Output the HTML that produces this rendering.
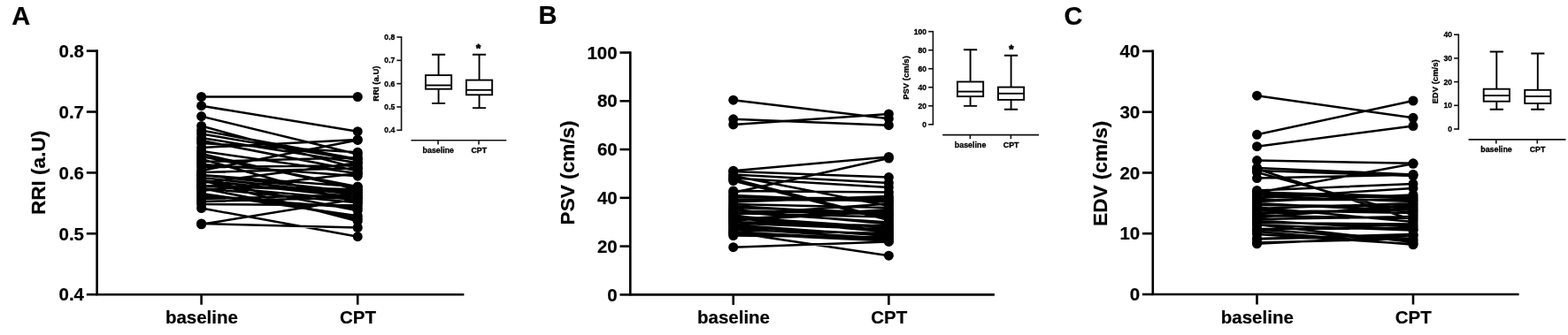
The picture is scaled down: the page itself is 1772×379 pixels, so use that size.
<!DOCTYPE html>
<html lang="en">
<head>
<meta charset="utf-8">
<title>Figure</title>
<style>
html,body{margin:0;padding:0;background:#fff;}
body{width:1772px;height:379px;overflow:hidden;}
svg{display:block;}
svg text{font-family:"Liberation Sans", Arial, Helvetica, sans-serif;font-weight:bold;fill:#000;}
svg text.m{stroke:#000;stroke-width:0.2px;}
svg text.s{stroke:#000;stroke-width:0.3px;}
svg text.st{stroke:#000;stroke-width:0.8px;stroke-linejoin:round;}
</style>
</head>
<body>
<svg width="1772" height="379" viewBox="0 0 1772 379">
<rect width="1772" height="379" fill="#fff"/>
<path d="M109.6 56.3V333.2H524.4" fill="none" stroke="#000" stroke-width="2.6" stroke-linejoin="miter"/>
<line x1="97.8" y1="57.6" x2="109.6" y2="57.6" stroke="#000" stroke-width="2.6" stroke-linecap="butt"/>
<text x="95" y="64.8" text-anchor="end" font-size="20.5" class="m">0.8</text>
<line x1="97.8" y1="126.5" x2="109.6" y2="126.5" stroke="#000" stroke-width="2.6" stroke-linecap="butt"/>
<text x="95" y="133.7" text-anchor="end" font-size="20.5" class="m">0.7</text>
<line x1="97.8" y1="195.4" x2="109.6" y2="195.4" stroke="#000" stroke-width="2.6" stroke-linecap="butt"/>
<text x="95" y="202.6" text-anchor="end" font-size="20.5" class="m">0.6</text>
<line x1="97.8" y1="264.3" x2="109.6" y2="264.3" stroke="#000" stroke-width="2.6" stroke-linecap="butt"/>
<text x="95" y="271.5" text-anchor="end" font-size="20.5" class="m">0.5</text>
<line x1="97.8" y1="333.2" x2="109.6" y2="333.2" stroke="#000" stroke-width="2.6" stroke-linecap="butt"/>
<text x="95" y="340.4" text-anchor="end" font-size="20.5" class="m">0.4</text>
<line x1="227.6" y1="333.2" x2="227.6" y2="344.7" stroke="#000" stroke-width="2.6"/>
<text x="227.9" y="366.4" text-anchor="middle" font-size="20.5" class="m">baseline</text>
<line x1="404.2" y1="333.2" x2="404.2" y2="344.7" stroke="#000" stroke-width="2.6"/>
<text x="404.5" y="366.4" text-anchor="middle" font-size="20.5" class="m">CPT</text>
<text transform="translate(51.3 195.4) rotate(-90)" text-anchor="middle" font-size="22.6" class="m">RRI (a.U)</text>
<text x="13.2" y="27.8" font-size="29" class="m">A</text>
<path d="M227.6 109.5L404.2 109.5M227.6 119.7L404.2 148.7M227.6 131.6L404.2 174.5M227.6 142.5L404.2 190.5M227.6 147.5L404.2 180M227.6 151.5L404.2 181M227.6 167L404.2 158M227.6 193L404.2 158.4M227.6 253L404.2 257.5M227.6 253.8L404.2 225M227.6 235.5L404.2 267.7M227.6 156L404.2 184.2M227.6 159L404.2 193.2M227.6 162L404.2 172.2M227.6 171L404.2 196.2M227.6 174L404.2 214.2M227.6 177L404.2 211.2M227.6 180L404.2 229.2M227.6 183L404.2 178.2M227.6 186L404.2 199.2M227.6 189L404.2 187.2M227.6 195L404.2 190.2M227.6 198L404.2 211.2M227.6 198L404.2 217.2M227.6 201L404.2 220.2M227.6 204L404.2 223.2M227.6 204L404.2 250.2M227.6 204L404.2 238.2M227.6 207L404.2 184.2M227.6 210L404.2 226.2M227.6 210L404.2 214.2M227.6 210L404.2 217.2M227.6 213L404.2 247.2M227.6 213L404.2 229.2M227.6 216L404.2 196.2M227.6 219L404.2 244.2M227.6 222L404.2 235.2M227.6 225L404.2 220.2M227.6 228L404.2 223.2M227.6 231L404.2 232.2" fill="none" stroke="#000" stroke-width="2.5"/>
<circle cx="227.6" cy="109.5" r="5.5"/><circle cx="404.2" cy="109.5" r="5.5"/><circle cx="227.6" cy="119.7" r="5.5"/><circle cx="404.2" cy="148.7" r="5.5"/><circle cx="227.6" cy="131.6" r="5.5"/><circle cx="404.2" cy="174.5" r="5.5"/><circle cx="227.6" cy="142.5" r="5.5"/><circle cx="404.2" cy="190.5" r="5.5"/><circle cx="227.6" cy="147.5" r="5.5"/><circle cx="404.2" cy="180" r="5.5"/><circle cx="227.6" cy="151.5" r="5.5"/><circle cx="404.2" cy="181" r="5.5"/><circle cx="227.6" cy="167" r="5.5"/><circle cx="404.2" cy="158" r="5.5"/><circle cx="227.6" cy="193" r="5.5"/><circle cx="404.2" cy="158.4" r="5.5"/><circle cx="227.6" cy="253" r="5.5"/><circle cx="404.2" cy="257.5" r="5.5"/><circle cx="227.6" cy="253.8" r="5.5"/><circle cx="404.2" cy="225" r="5.5"/><circle cx="227.6" cy="235.5" r="5.5"/><circle cx="404.2" cy="267.7" r="5.5"/><circle cx="227.6" cy="156" r="5.5"/><circle cx="404.2" cy="184.2" r="5.5"/><circle cx="227.6" cy="159" r="5.5"/><circle cx="404.2" cy="193.2" r="5.5"/><circle cx="227.6" cy="162" r="5.5"/><circle cx="404.2" cy="172.2" r="5.5"/><circle cx="227.6" cy="171" r="5.5"/><circle cx="404.2" cy="196.2" r="5.5"/><circle cx="227.6" cy="174" r="5.5"/><circle cx="404.2" cy="214.2" r="5.5"/><circle cx="227.6" cy="177" r="5.5"/><circle cx="404.2" cy="211.2" r="5.5"/><circle cx="227.6" cy="180" r="5.5"/><circle cx="404.2" cy="229.2" r="5.5"/><circle cx="227.6" cy="183" r="5.5"/><circle cx="404.2" cy="178.2" r="5.5"/><circle cx="227.6" cy="186" r="5.5"/><circle cx="404.2" cy="199.2" r="5.5"/><circle cx="227.6" cy="189" r="5.5"/><circle cx="404.2" cy="187.2" r="5.5"/><circle cx="227.6" cy="195" r="5.5"/><circle cx="404.2" cy="190.2" r="5.5"/><circle cx="227.6" cy="198" r="5.5"/><circle cx="404.2" cy="211.2" r="5.5"/><circle cx="227.6" cy="198" r="5.5"/><circle cx="404.2" cy="217.2" r="5.5"/><circle cx="227.6" cy="201" r="5.5"/><circle cx="404.2" cy="220.2" r="5.5"/><circle cx="227.6" cy="204" r="5.5"/><circle cx="404.2" cy="223.2" r="5.5"/><circle cx="227.6" cy="204" r="5.5"/><circle cx="404.2" cy="250.2" r="5.5"/><circle cx="227.6" cy="204" r="5.5"/><circle cx="404.2" cy="238.2" r="5.5"/><circle cx="227.6" cy="207" r="5.5"/><circle cx="404.2" cy="184.2" r="5.5"/><circle cx="227.6" cy="210" r="5.5"/><circle cx="404.2" cy="226.2" r="5.5"/><circle cx="227.6" cy="210" r="5.5"/><circle cx="404.2" cy="214.2" r="5.5"/><circle cx="227.6" cy="210" r="5.5"/><circle cx="404.2" cy="217.2" r="5.5"/><circle cx="227.6" cy="213" r="5.5"/><circle cx="404.2" cy="247.2" r="5.5"/><circle cx="227.6" cy="213" r="5.5"/><circle cx="404.2" cy="229.2" r="5.5"/><circle cx="227.6" cy="216" r="5.5"/><circle cx="404.2" cy="196.2" r="5.5"/><circle cx="227.6" cy="219" r="5.5"/><circle cx="404.2" cy="244.2" r="5.5"/><circle cx="227.6" cy="222" r="5.5"/><circle cx="404.2" cy="235.2" r="5.5"/><circle cx="227.6" cy="225" r="5.5"/><circle cx="404.2" cy="220.2" r="5.5"/><circle cx="227.6" cy="228" r="5.5"/><circle cx="404.2" cy="223.2" r="5.5"/><circle cx="227.6" cy="231" r="5.5"/><circle cx="404.2" cy="232.2" r="5.5"/>
<g stroke="#111" stroke-width="1.6" fill="none">
<path d="M453.6 41.2V148.1"/>
<line x1="448.4" y1="42" x2="453.6" y2="42"/>
<line x1="448.4" y1="68.33" x2="453.6" y2="68.33"/>
<line x1="448.4" y1="94.65" x2="453.6" y2="94.65"/>
<line x1="448.4" y1="120.98" x2="453.6" y2="120.98"/>
<line x1="448.4" y1="147.3" x2="453.6" y2="147.3"/>
<line x1="464.5" y1="158.8" x2="572.3" y2="158.8"/>
<line x1="495.1" y1="158.8" x2="495.1" y2="163.4"/>
<line x1="541.1" y1="158.8" x2="541.1" y2="163.4"/>
</g>
<text x="446.4" y="45.1" text-anchor="end" font-size="8.7" class="s">0.8</text>
<text x="446.4" y="71.42" text-anchor="end" font-size="8.7" class="s">0.7</text>
<text x="446.4" y="97.75" text-anchor="end" font-size="8.7" class="s">0.6</text>
<text x="446.4" y="124.08" text-anchor="end" font-size="8.7" class="s">0.5</text>
<text x="446.4" y="150.4" text-anchor="end" font-size="8.7" class="s">0.4</text>
<text x="495.3" y="173" text-anchor="middle" font-size="8.9" class="s">baseline</text>
<text x="541.3" y="173" text-anchor="middle" font-size="8.9" class="s">CPT</text>
<text transform="translate(428 94.6) rotate(-90)" text-anchor="middle" font-size="9.5" class="s">RRI (a.U)</text>
<g stroke="#000" stroke-width="1.9" fill="#fff">
<path d="M495.6 61.8V85.1M495.6 100.7V116.9M488 61.8H503.2M488 116.9H503.2" fill="none"/>
<rect x="481" y="85.1" width="29.2" height="15.6"/>
<line x1="481" y1="96.5" x2="510.2" y2="96.5"/>
<path d="M541.6 61.8V90.6M541.6 107.3V122.1M534 61.8H549.2M534 122.1H549.2" fill="none"/>
<rect x="527" y="90.6" width="29.2" height="16.7"/>
<line x1="527" y1="101.8" x2="556.2" y2="101.8"/>
</g>
<text x="540.7" y="59.1" text-anchor="middle" font-size="13.5" class="st">*</text>
<path d="M712.3 58.2V333.4H1123.9" fill="none" stroke="#000" stroke-width="2.6" stroke-linejoin="miter"/>
<line x1="700.5" y1="59.5" x2="712.3" y2="59.5" stroke="#000" stroke-width="2.6" stroke-linecap="butt"/>
<text x="697.7" y="66.7" text-anchor="end" font-size="20.5" class="m">100</text>
<line x1="700.5" y1="114.28" x2="712.3" y2="114.28" stroke="#000" stroke-width="2.6" stroke-linecap="butt"/>
<text x="697.7" y="121.48" text-anchor="end" font-size="20.5" class="m">80</text>
<line x1="700.5" y1="169.06" x2="712.3" y2="169.06" stroke="#000" stroke-width="2.6" stroke-linecap="butt"/>
<text x="697.7" y="176.26" text-anchor="end" font-size="20.5" class="m">60</text>
<line x1="700.5" y1="223.84" x2="712.3" y2="223.84" stroke="#000" stroke-width="2.6" stroke-linecap="butt"/>
<text x="697.7" y="231.04" text-anchor="end" font-size="20.5" class="m">40</text>
<line x1="700.5" y1="278.62" x2="712.3" y2="278.62" stroke="#000" stroke-width="2.6" stroke-linecap="butt"/>
<text x="697.7" y="285.82" text-anchor="end" font-size="20.5" class="m">20</text>
<line x1="700.5" y1="333.4" x2="712.3" y2="333.4" stroke="#000" stroke-width="2.6" stroke-linecap="butt"/>
<text x="697.7" y="340.6" text-anchor="end" font-size="20.5" class="m">0</text>
<line x1="828.7" y1="333.4" x2="828.7" y2="344.9" stroke="#000" stroke-width="2.6"/>
<text x="829" y="366.4" text-anchor="middle" font-size="20.5" class="m">baseline</text>
<line x1="1004.4" y1="333.4" x2="1004.4" y2="344.9" stroke="#000" stroke-width="2.6"/>
<text x="1004.7" y="366.4" text-anchor="middle" font-size="20.5" class="m">CPT</text>
<text transform="translate(648.9 195.4) rotate(-90)" text-anchor="middle" font-size="22.6" class="m">PSV (cm/s)</text>
<text x="608.5" y="27.4" font-size="29" class="m">B</text>
<path d="M828.7 113.2L1004.4 134.3M828.7 134.8L1004.4 141.7M828.7 140.9L1004.4 129M828.7 193.2L1004.4 177.5M828.7 218L1004.4 179M828.7 194L1004.4 200.6M828.7 197.4L1004.4 207M828.7 201.6L1004.4 212M828.7 202.5L1004.4 247.7M828.7 204.5L1004.4 249M828.7 199L1004.4 233M828.7 279.7L1004.4 273.4M828.7 263L1004.4 289.2M828.7 216L1004.4 217.5M828.7 221L1004.4 228.5M828.7 223.5L1004.4 224.5M828.7 226L1004.4 226.5M828.7 228.5L1004.4 222M828.7 231L1004.4 235M828.7 233L1004.4 243.5M828.7 235L1004.4 240.5M828.7 237L1004.4 253.5M828.7 238.5L1004.4 242M828.7 239.9L1004.4 251.5M828.7 241.3L1004.4 245.5M828.7 242.7L1004.4 230.5M828.7 244.1L1004.4 261M828.7 245.4L1004.4 257.5M828.7 246.8L1004.4 262.5M828.7 248.2L1004.4 237M828.7 249.6L1004.4 239M828.7 251L1004.4 255.5M828.7 252.5L1004.4 259.5M828.7 254.5L1004.4 267M828.7 256.5L1004.4 265.5M828.7 258.5L1004.4 270M828.7 260.5L1004.4 264M828.7 262.5L1004.4 271.5M828.7 264.5L1004.4 272.5M828.7 266.5L1004.4 268.5" fill="none" stroke="#000" stroke-width="2.5"/>
<circle cx="828.7" cy="113.2" r="5.5"/><circle cx="1004.4" cy="134.3" r="5.5"/><circle cx="828.7" cy="134.8" r="5.5"/><circle cx="1004.4" cy="141.7" r="5.5"/><circle cx="828.7" cy="140.9" r="5.5"/><circle cx="1004.4" cy="129" r="5.5"/><circle cx="828.7" cy="193.2" r="5.5"/><circle cx="1004.4" cy="177.5" r="5.5"/><circle cx="828.7" cy="218" r="5.5"/><circle cx="1004.4" cy="179" r="5.5"/><circle cx="828.7" cy="194" r="5.5"/><circle cx="1004.4" cy="200.6" r="5.5"/><circle cx="828.7" cy="197.4" r="5.5"/><circle cx="1004.4" cy="207" r="5.5"/><circle cx="828.7" cy="201.6" r="5.5"/><circle cx="1004.4" cy="212" r="5.5"/><circle cx="828.7" cy="202.5" r="5.5"/><circle cx="1004.4" cy="247.7" r="5.5"/><circle cx="828.7" cy="204.5" r="5.5"/><circle cx="1004.4" cy="249" r="5.5"/><circle cx="828.7" cy="199" r="5.5"/><circle cx="1004.4" cy="233" r="5.5"/><circle cx="828.7" cy="279.7" r="5.5"/><circle cx="1004.4" cy="273.4" r="5.5"/><circle cx="828.7" cy="263" r="5.5"/><circle cx="1004.4" cy="289.2" r="5.5"/><circle cx="828.7" cy="216" r="5.5"/><circle cx="1004.4" cy="217.5" r="5.5"/><circle cx="828.7" cy="221" r="5.5"/><circle cx="1004.4" cy="228.5" r="5.5"/><circle cx="828.7" cy="223.5" r="5.5"/><circle cx="1004.4" cy="224.5" r="5.5"/><circle cx="828.7" cy="226" r="5.5"/><circle cx="1004.4" cy="226.5" r="5.5"/><circle cx="828.7" cy="228.5" r="5.5"/><circle cx="1004.4" cy="222" r="5.5"/><circle cx="828.7" cy="231" r="5.5"/><circle cx="1004.4" cy="235" r="5.5"/><circle cx="828.7" cy="233" r="5.5"/><circle cx="1004.4" cy="243.5" r="5.5"/><circle cx="828.7" cy="235" r="5.5"/><circle cx="1004.4" cy="240.5" r="5.5"/><circle cx="828.7" cy="237" r="5.5"/><circle cx="1004.4" cy="253.5" r="5.5"/><circle cx="828.7" cy="238.5" r="5.5"/><circle cx="1004.4" cy="242" r="5.5"/><circle cx="828.7" cy="239.9" r="5.5"/><circle cx="1004.4" cy="251.5" r="5.5"/><circle cx="828.7" cy="241.3" r="5.5"/><circle cx="1004.4" cy="245.5" r="5.5"/><circle cx="828.7" cy="242.7" r="5.5"/><circle cx="1004.4" cy="230.5" r="5.5"/><circle cx="828.7" cy="244.1" r="5.5"/><circle cx="1004.4" cy="261" r="5.5"/><circle cx="828.7" cy="245.4" r="5.5"/><circle cx="1004.4" cy="257.5" r="5.5"/><circle cx="828.7" cy="246.8" r="5.5"/><circle cx="1004.4" cy="262.5" r="5.5"/><circle cx="828.7" cy="248.2" r="5.5"/><circle cx="1004.4" cy="237" r="5.5"/><circle cx="828.7" cy="249.6" r="5.5"/><circle cx="1004.4" cy="239" r="5.5"/><circle cx="828.7" cy="251" r="5.5"/><circle cx="1004.4" cy="255.5" r="5.5"/><circle cx="828.7" cy="252.5" r="5.5"/><circle cx="1004.4" cy="259.5" r="5.5"/><circle cx="828.7" cy="254.5" r="5.5"/><circle cx="1004.4" cy="267" r="5.5"/><circle cx="828.7" cy="256.5" r="5.5"/><circle cx="1004.4" cy="265.5" r="5.5"/><circle cx="828.7" cy="258.5" r="5.5"/><circle cx="1004.4" cy="270" r="5.5"/><circle cx="828.7" cy="260.5" r="5.5"/><circle cx="1004.4" cy="264" r="5.5"/><circle cx="828.7" cy="262.5" r="5.5"/><circle cx="1004.4" cy="271.5" r="5.5"/><circle cx="828.7" cy="264.5" r="5.5"/><circle cx="1004.4" cy="272.5" r="5.5"/><circle cx="828.7" cy="266.5" r="5.5"/><circle cx="1004.4" cy="268.5" r="5.5"/>
<g stroke="#111" stroke-width="1.6" fill="none">
<path d="M1054.4 34.9V141.6"/>
<line x1="1049.2" y1="35.7" x2="1054.4" y2="35.7"/>
<line x1="1049.2" y1="56.72" x2="1054.4" y2="56.72"/>
<line x1="1049.2" y1="77.74" x2="1054.4" y2="77.74"/>
<line x1="1049.2" y1="98.76" x2="1054.4" y2="98.76"/>
<line x1="1049.2" y1="119.78" x2="1054.4" y2="119.78"/>
<line x1="1049.2" y1="140.8" x2="1054.4" y2="140.8"/>
<line x1="1065.2" y1="152.6" x2="1174" y2="152.6"/>
<line x1="1096.4" y1="152.6" x2="1096.4" y2="157.2"/>
<line x1="1142.4" y1="152.6" x2="1142.4" y2="157.2"/>
</g>
<text x="1047.2" y="38.8" text-anchor="end" font-size="8.7" class="s">100</text>
<text x="1047.2" y="59.82" text-anchor="end" font-size="8.7" class="s">80</text>
<text x="1047.2" y="80.84" text-anchor="end" font-size="8.7" class="s">60</text>
<text x="1047.2" y="101.86" text-anchor="end" font-size="8.7" class="s">40</text>
<text x="1047.2" y="122.88" text-anchor="end" font-size="8.7" class="s">20</text>
<text x="1047.2" y="143.9" text-anchor="end" font-size="8.7" class="s">0</text>
<text x="1096.6" y="166.8" text-anchor="middle" font-size="8.9" class="s">baseline</text>
<text x="1142.6" y="166.8" text-anchor="middle" font-size="8.9" class="s">CPT</text>
<text transform="translate(1026.7 88) rotate(-90)" text-anchor="middle" font-size="9.5" class="s">PSV (cm/s)</text>
<g stroke="#000" stroke-width="1.9" fill="#fff">
<path d="M1096.6 56.3V92.5M1096.6 109.1V119.9M1089 56.3H1104.2M1089 119.9H1104.2" fill="none"/>
<rect x="1082" y="92.5" width="29.2" height="16.6"/>
<line x1="1082" y1="103.6" x2="1111.2" y2="103.6"/>
<path d="M1142.6 62.7V98.6M1142.6 112.9V123.8M1135 62.7H1150.2M1135 123.8H1150.2" fill="none"/>
<rect x="1128" y="98.6" width="29.2" height="14.3"/>
<line x1="1128" y1="105.8" x2="1157.2" y2="105.8"/>
</g>
<text x="1142.9" y="60.2" text-anchor="middle" font-size="13.5" class="st">*</text>
<path d="M1302.8 56.6V333H1716.6" fill="none" stroke="#000" stroke-width="2.6" stroke-linejoin="miter"/>
<line x1="1291" y1="57.9" x2="1302.8" y2="57.9" stroke="#000" stroke-width="2.6" stroke-linecap="butt"/>
<text x="1288.2" y="65.1" text-anchor="end" font-size="20.5" class="m">40</text>
<line x1="1291" y1="126.68" x2="1302.8" y2="126.68" stroke="#000" stroke-width="2.6" stroke-linecap="butt"/>
<text x="1288.2" y="133.88" text-anchor="end" font-size="20.5" class="m">30</text>
<line x1="1291" y1="195.45" x2="1302.8" y2="195.45" stroke="#000" stroke-width="2.6" stroke-linecap="butt"/>
<text x="1288.2" y="202.65" text-anchor="end" font-size="20.5" class="m">20</text>
<line x1="1291" y1="264.23" x2="1302.8" y2="264.23" stroke="#000" stroke-width="2.6" stroke-linecap="butt"/>
<text x="1288.2" y="271.43" text-anchor="end" font-size="20.5" class="m">10</text>
<line x1="1291" y1="333" x2="1302.8" y2="333" stroke="#000" stroke-width="2.6" stroke-linecap="butt"/>
<text x="1288.2" y="340.2" text-anchor="end" font-size="20.5" class="m">0</text>
<line x1="1420.5" y1="333" x2="1420.5" y2="344.5" stroke="#000" stroke-width="2.6"/>
<text x="1420.8" y="366.4" text-anchor="middle" font-size="20.5" class="m">baseline</text>
<line x1="1597" y1="333" x2="1597" y2="344.5" stroke="#000" stroke-width="2.6"/>
<text x="1597.3" y="366.4" text-anchor="middle" font-size="20.5" class="m">CPT</text>
<text transform="translate(1250.7 196.3) rotate(-90)" text-anchor="middle" font-size="22.6" class="m">EDV (cm/s)</text>
<text x="1202.5" y="27.6" font-size="29" class="m">C</text>
<path d="M1420.5 108.2L1597 133.3M1420.5 152.3L1597 114M1420.5 165.7L1597 142.5M1420.5 181.6L1597 184.8M1420.5 218L1597 185.3M1420.5 190L1597 197.4M1420.5 193L1597 199M1420.5 195L1597 243M1420.5 191L1597 249M1420.5 201.6L1597 197.8M1420.5 215.4L1597 208M1420.5 275.8L1597 267M1420.5 270.6L1597 266M1420.5 262L1597 276.8M1420.5 265L1597 276.2M1420.5 217.5L1597 222.4M1420.5 220L1597 224.3M1420.5 222L1597 228.1M1420.5 224L1597 213M1420.5 226L1597 226.2M1420.5 228L1597 220.5M1420.5 230L1597 239M1420.5 232L1597 233.7M1420.5 234.5L1597 251M1420.5 236L1597 229.9M1420.5 238L1597 241M1420.5 240L1597 237.5M1420.5 242L1597 235.6M1420.5 244L1597 247M1420.5 246L1597 231.8M1420.5 248L1597 245M1420.5 249.5L1597 260M1420.5 251L1597 256M1420.5 252L1597 253.5M1420.5 254L1597 274M1420.5 254.6L1597 260.6M1420.5 259L1597 258M1420.5 259.6L1597 272M1420.5 270L1597 265M1420.5 274.5L1597 270" fill="none" stroke="#000" stroke-width="2.5"/>
<circle cx="1420.5" cy="108.2" r="5.5"/><circle cx="1597" cy="133.3" r="5.5"/><circle cx="1420.5" cy="152.3" r="5.5"/><circle cx="1597" cy="114" r="5.5"/><circle cx="1420.5" cy="165.7" r="5.5"/><circle cx="1597" cy="142.5" r="5.5"/><circle cx="1420.5" cy="181.6" r="5.5"/><circle cx="1597" cy="184.8" r="5.5"/><circle cx="1420.5" cy="218" r="5.5"/><circle cx="1597" cy="185.3" r="5.5"/><circle cx="1420.5" cy="190" r="5.5"/><circle cx="1597" cy="197.4" r="5.5"/><circle cx="1420.5" cy="193" r="5.5"/><circle cx="1597" cy="199" r="5.5"/><circle cx="1420.5" cy="195" r="5.5"/><circle cx="1597" cy="243" r="5.5"/><circle cx="1420.5" cy="191" r="5.5"/><circle cx="1597" cy="249" r="5.5"/><circle cx="1420.5" cy="201.6" r="5.5"/><circle cx="1597" cy="197.8" r="5.5"/><circle cx="1420.5" cy="215.4" r="5.5"/><circle cx="1597" cy="208" r="5.5"/><circle cx="1420.5" cy="275.8" r="5.5"/><circle cx="1597" cy="267" r="5.5"/><circle cx="1420.5" cy="270.6" r="5.5"/><circle cx="1597" cy="266" r="5.5"/><circle cx="1420.5" cy="262" r="5.5"/><circle cx="1597" cy="276.8" r="5.5"/><circle cx="1420.5" cy="265" r="5.5"/><circle cx="1597" cy="276.2" r="5.5"/><circle cx="1420.5" cy="217.5" r="5.5"/><circle cx="1597" cy="222.4" r="5.5"/><circle cx="1420.5" cy="220" r="5.5"/><circle cx="1597" cy="224.3" r="5.5"/><circle cx="1420.5" cy="222" r="5.5"/><circle cx="1597" cy="228.1" r="5.5"/><circle cx="1420.5" cy="224" r="5.5"/><circle cx="1597" cy="213" r="5.5"/><circle cx="1420.5" cy="226" r="5.5"/><circle cx="1597" cy="226.2" r="5.5"/><circle cx="1420.5" cy="228" r="5.5"/><circle cx="1597" cy="220.5" r="5.5"/><circle cx="1420.5" cy="230" r="5.5"/><circle cx="1597" cy="239" r="5.5"/><circle cx="1420.5" cy="232" r="5.5"/><circle cx="1597" cy="233.7" r="5.5"/><circle cx="1420.5" cy="234.5" r="5.5"/><circle cx="1597" cy="251" r="5.5"/><circle cx="1420.5" cy="236" r="5.5"/><circle cx="1597" cy="229.9" r="5.5"/><circle cx="1420.5" cy="238" r="5.5"/><circle cx="1597" cy="241" r="5.5"/><circle cx="1420.5" cy="240" r="5.5"/><circle cx="1597" cy="237.5" r="5.5"/><circle cx="1420.5" cy="242" r="5.5"/><circle cx="1597" cy="235.6" r="5.5"/><circle cx="1420.5" cy="244" r="5.5"/><circle cx="1597" cy="247" r="5.5"/><circle cx="1420.5" cy="246" r="5.5"/><circle cx="1597" cy="231.8" r="5.5"/><circle cx="1420.5" cy="248" r="5.5"/><circle cx="1597" cy="245" r="5.5"/><circle cx="1420.5" cy="249.5" r="5.5"/><circle cx="1597" cy="260" r="5.5"/><circle cx="1420.5" cy="251" r="5.5"/><circle cx="1597" cy="256" r="5.5"/><circle cx="1420.5" cy="252" r="5.5"/><circle cx="1597" cy="253.5" r="5.5"/><circle cx="1420.5" cy="254" r="5.5"/><circle cx="1597" cy="274" r="5.5"/><circle cx="1420.5" cy="254.6" r="5.5"/><circle cx="1597" cy="260.6" r="5.5"/><circle cx="1420.5" cy="259" r="5.5"/><circle cx="1597" cy="258" r="5.5"/><circle cx="1420.5" cy="259.6" r="5.5"/><circle cx="1597" cy="272" r="5.5"/><circle cx="1420.5" cy="270" r="5.5"/><circle cx="1597" cy="265" r="5.5"/><circle cx="1420.5" cy="274.5" r="5.5"/><circle cx="1597" cy="270" r="5.5"/>
<g stroke="#111" stroke-width="1.6" fill="none">
<path d="M1648.3 38.4V146.8"/>
<line x1="1643.1" y1="39.2" x2="1648.3" y2="39.2"/>
<line x1="1643.1" y1="65.9" x2="1648.3" y2="65.9"/>
<line x1="1643.1" y1="92.6" x2="1648.3" y2="92.6"/>
<line x1="1643.1" y1="119.3" x2="1648.3" y2="119.3"/>
<line x1="1643.1" y1="146" x2="1648.3" y2="146"/>
<line x1="1659.6" y1="157.9" x2="1769.5" y2="157.9"/>
<line x1="1690.8" y1="157.9" x2="1690.8" y2="162.5"/>
<line x1="1737.3" y1="157.9" x2="1737.3" y2="162.5"/>
</g>
<text x="1641.1" y="42.3" text-anchor="end" font-size="8.7" class="s">40</text>
<text x="1641.1" y="69" text-anchor="end" font-size="8.7" class="s">30</text>
<text x="1641.1" y="95.7" text-anchor="end" font-size="8.7" class="s">20</text>
<text x="1641.1" y="122.4" text-anchor="end" font-size="8.7" class="s">10</text>
<text x="1641.1" y="149.1" text-anchor="end" font-size="8.7" class="s">0</text>
<text x="1691" y="172.1" text-anchor="middle" font-size="8.9" class="s">baseline</text>
<text x="1737.5" y="172.1" text-anchor="middle" font-size="8.9" class="s">CPT</text>
<text transform="translate(1625 92.4) rotate(-90)" text-anchor="middle" font-size="9.5" class="s">EDV (cm/s)</text>
<g stroke="#000" stroke-width="1.9" fill="#fff">
<path d="M1691.3 58.5V100.7M1691.3 114.7V123.8M1683.7 58.5H1698.9M1683.7 123.8H1698.9" fill="none"/>
<rect x="1676.7" y="100.7" width="29.2" height="14"/>
<line x1="1676.7" y1="108.1" x2="1705.9" y2="108.1"/>
<path d="M1737.8 60.5V101.8M1737.8 117V123.8M1730.2 60.5H1745.4M1730.2 123.8H1745.4" fill="none"/>
<rect x="1723.2" y="101.8" width="29.2" height="15.2"/>
<line x1="1723.2" y1="109" x2="1752.4" y2="109"/>
</g>
</svg>
</body>
</html>
